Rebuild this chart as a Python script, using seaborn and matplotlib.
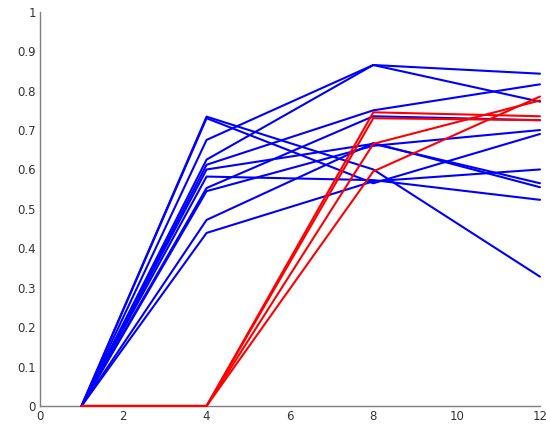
# recreate matlab style line chart: blue vs red trajectories
import numpy as np
import pandas as pd
import matplotlib
matplotlib.use('Agg')
import matplotlib.pyplot as plt
import seaborn as sns

# %% data ---------------------------------------------------------------
x_vals = [1, 4, 8, 12]

# blue runs: values at x = 4, 8, 12 (all start at 0 at x = 1)
blue_y4 = [0.675, 0.625, 0.612, 0.553, 0.472, 0.439, 0.734, 0.730, 0.582, 0.545, 0.600]
blue_y8 = [0.865, 0.865, 0.750, 0.735, 0.667, 0.570, 0.600, 0.565, 0.573, 0.660, 0.665]
blue_y12 = [0.843, 0.772, 0.816, 0.725, 0.555, 0.600, 0.328, 0.690, 0.523, 0.700, 0.565]

# red runs: flat at 0 until x = 4
red_y4 = [0.0, 0.0, 0.0, 0.0]
red_y8 = [0.745, 0.730, 0.665, 0.595]
red_y12 = [0.735, 0.725, 0.775, 0.785]

# %% long form table ----------------------------------------------------
rows = []
for i, (a, b, c) in enumerate(zip(blue_y4, blue_y8, blue_y12)):
    for x, y in zip(x_vals, [0.0, a, b, c]):
        rows.append({'x': x, 'y': y, 'run': f'b{i}', 'group': 'blue'})
for i, (a, b, c) in enumerate(zip(red_y4, red_y8, red_y12)):
    for x, y in zip(x_vals, [0.0, a, b, c]):
        rows.append({'x': x, 'y': y, 'run': f'r{i}', 'group': 'red'})
df = pd.DataFrame(rows)

# %% plot ---------------------------------------------------------------
sns.set_style('white')
fig = plt.figure(figsize=(5.46, 4.37), dpi=100)
ax = fig.add_axes([0.073, 0.071, 0.916, 0.902])

for grp, col, z in [('blue', '#0000ff', 3), ('red', '#ff0000', 4)]:
    sns.lineplot(data=df[df.group == grp], x='x', y='y', units='run',
                 estimator=None, color=col, lw=1.5, sort=False, ax=ax,
                 legend=False, zorder=z, clip_on=False)

ax.set_xlim(0, 12)
ax.set_ylim(0, 1)
ax.set_xticks(np.arange(0, 13, 2))
ax.set_yticks(np.round(np.arange(0, 1.01, 0.1), 1))
ax.set_yticklabels(['0'] + [f'{v:.1f}' for v in np.arange(0.1, 0.95, 0.1)] + ['1'])
ax.set_xlabel('')
ax.set_ylabel('')

sns.despine(ax=ax)
for side in ['left', 'bottom']:
    ax.spines[side].set_color('#7f7f7f')
    ax.spines[side].set_linewidth(1.0)
    ax.spines[side].set_zorder(2)
ax.tick_params(direction='in', length=4, width=0.8, color='#7f7f7f',
               labelsize=8.5, labelcolor='#333333', pad=3)

plt.savefig('out.png', dpi=100)
plt.close('all')
